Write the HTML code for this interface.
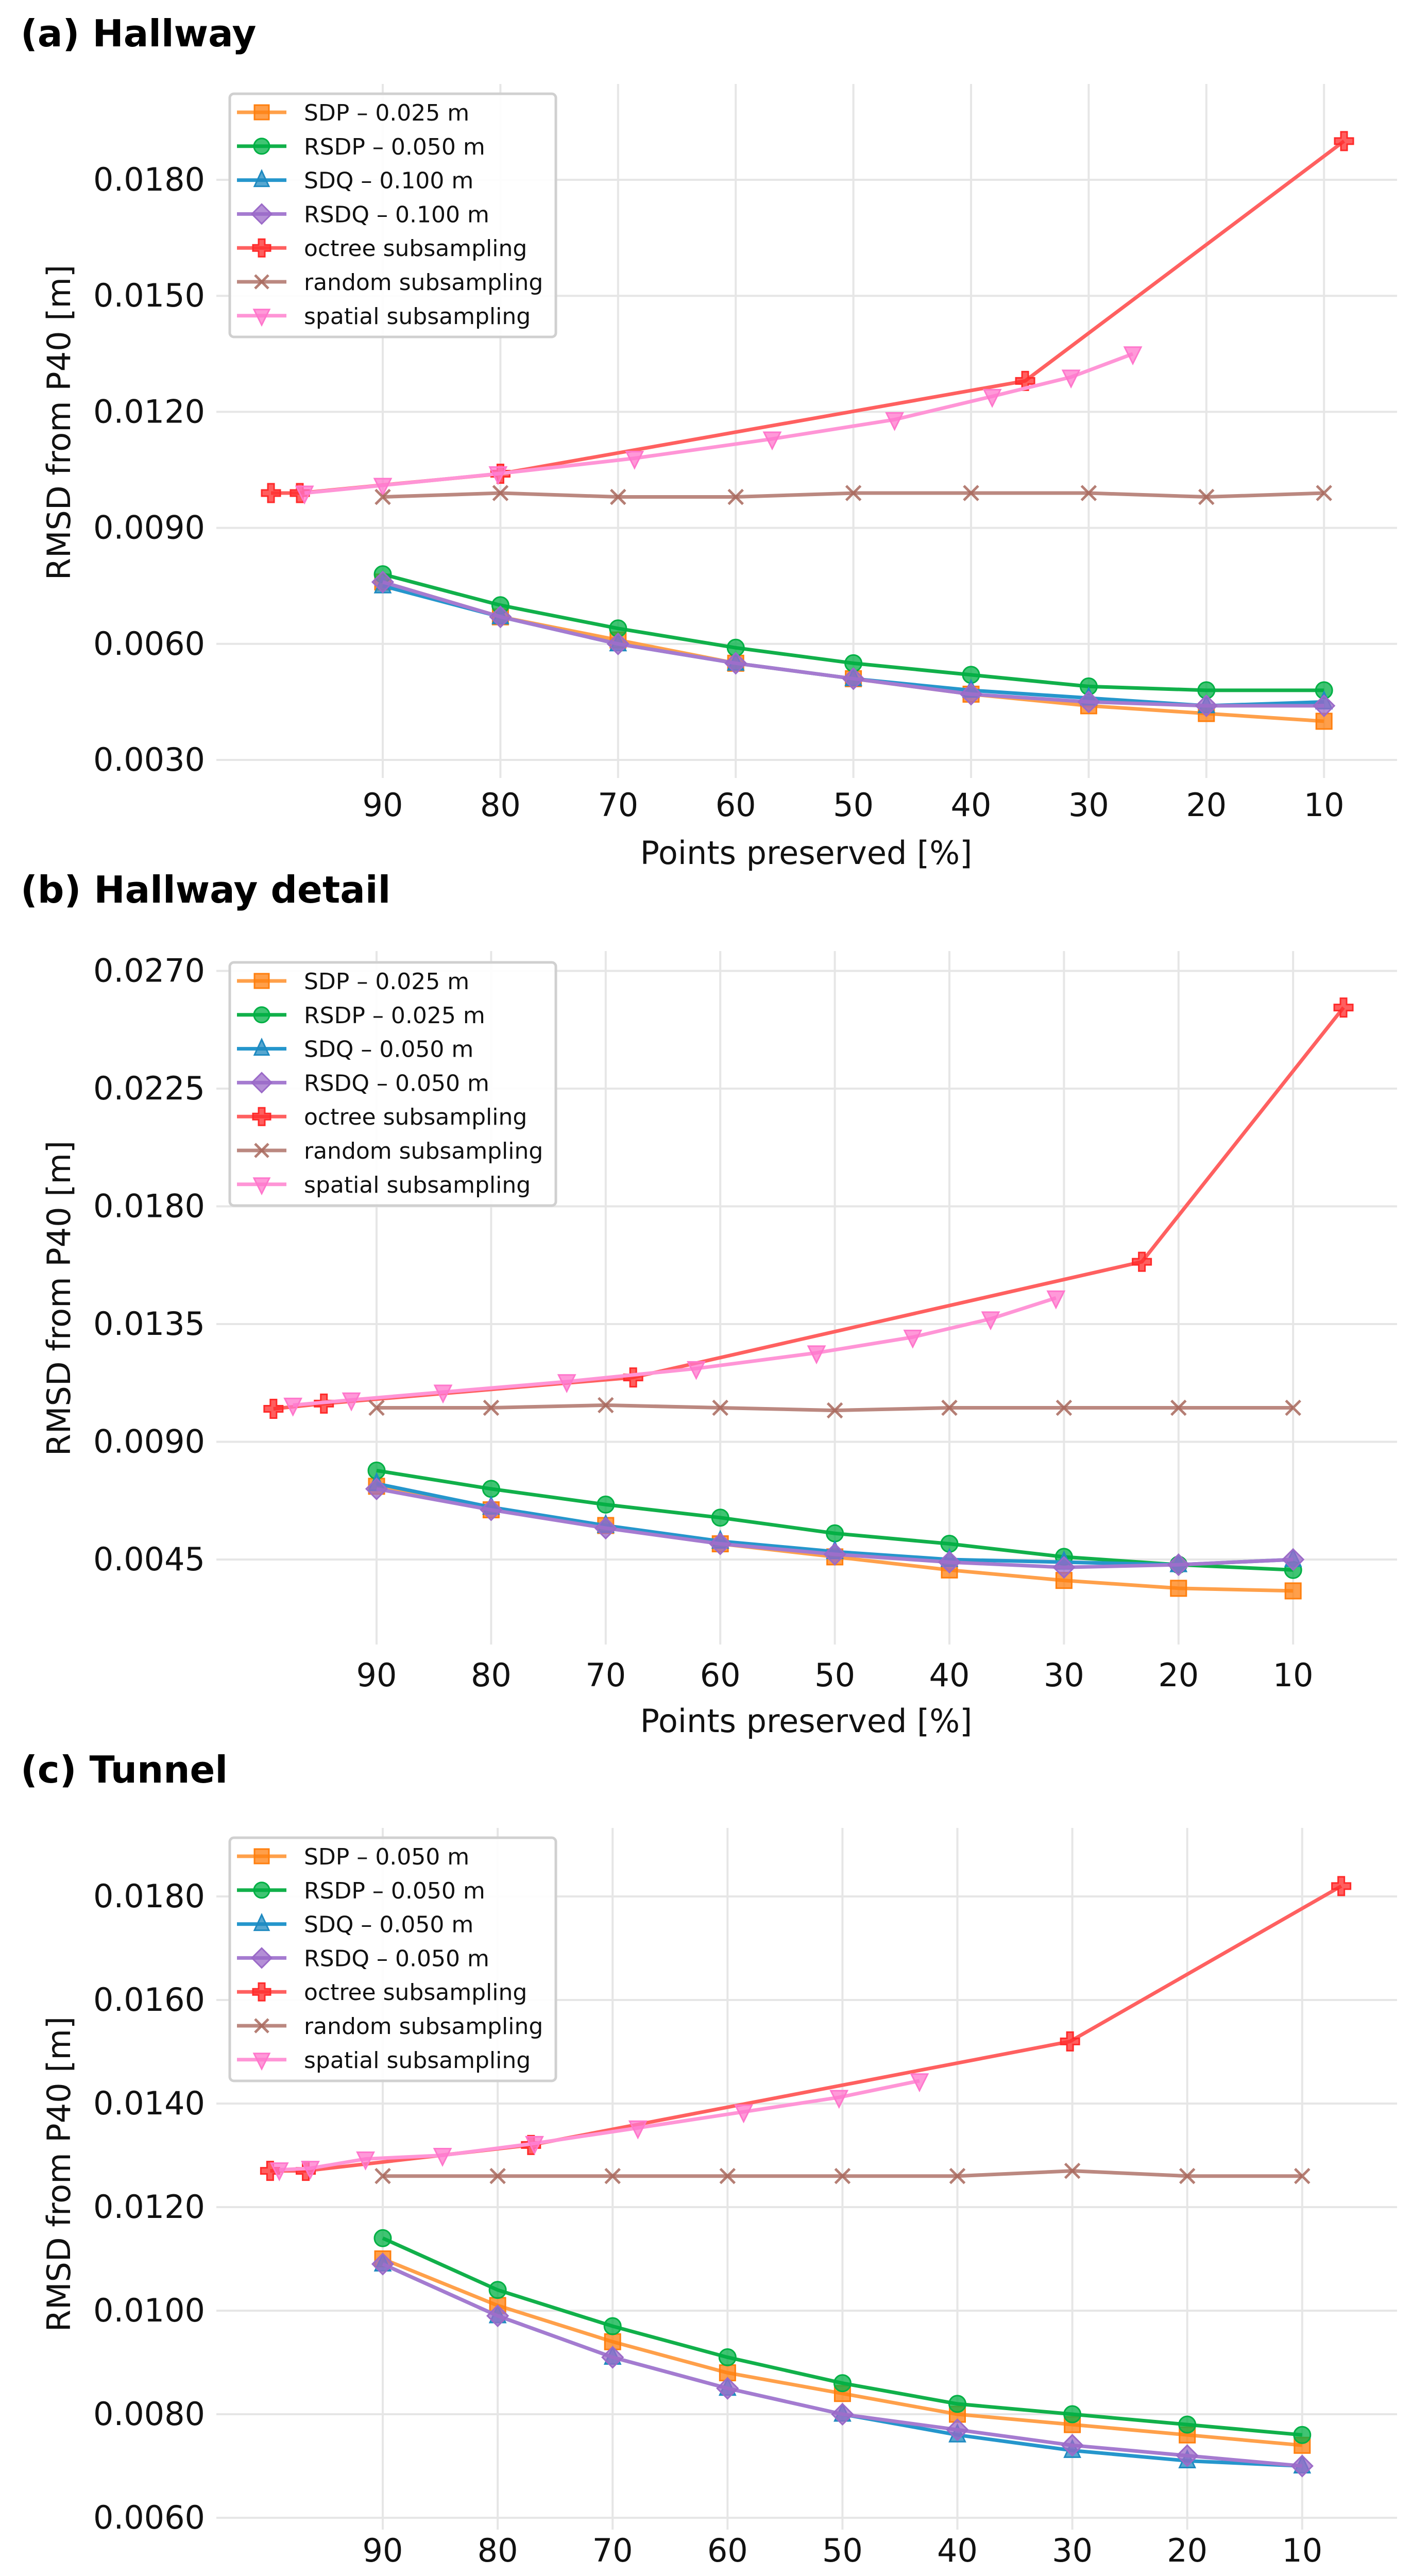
<!DOCTYPE html>
<html><head><meta charset="utf-8"><style>
html,body{margin:0;padding:0;background:#fff;width:2741px;height:5097px;overflow:hidden;}
svg{display:block;overflow:hidden;}
text{font-family:"DejaVu Sans","Liberation Sans",sans-serif;}
.title{font-family:"DejaVu Sans","Liberation Sans",sans-serif;font-weight:900;font-size:72px;}
</style></head><body>
<svg id="fig" width="2741" height="5097" viewBox="0 0 2741 5097" xmlns="http://www.w3.org/2000/svg">
<text class="title" x="40" y="90">(a) Hallway</text>
<text class="title" x="40" y="1752">(b) Hallway detail</text>
<text class="title" x="40" y="3460">(c) Tunnel</text>
</svg>
<script>
// ---- shared data ----
const xCats = [90,80,70,60,50,40,30,20,10];
const xTickLabels = ["90","80","70","60","50","40","30","20","10"];
const seriesNames = ["sdp","rsdp","sdq","rsdq","octree","random","spatial"];

// Panel a
const aLegend = ["SDP – 0.025 m","RSDP – 0.050 m","SDQ – 0.100 m","RSDQ – 0.100 m","octree subsampling","random subsampling","spatial subsampling"];
const aYTicks = [0.003,0.006,0.009,0.012,0.015,0.018];
const aYTickLabels = ["0.0030","0.0060","0.0090","0.0120","0.0150","0.0180"];
const aSDP = [0.0076,0.0067,0.0061,0.0055,0.0051,0.0047,0.0044,0.0042,0.0040];
const aRSDP = [0.0078,0.0070,0.0064,0.0059,0.0055,0.0052,0.0049,0.0048,0.0048];
const aSDQ = [0.0075,0.0067,0.0060,0.0055,0.0051,0.0048,0.0046,0.0044,0.0045];
const aRSDQ = [0.0076,0.0067,0.0060,0.0055,0.0051,0.0047,0.0045,0.0044,0.0044];
const aRandom = [0.0098,0.0099,0.0098,0.0098,0.0099,0.0099,0.0099,0.0098,0.0099];
const aOctreeX = [99.5,97.05,80.0,35.4,8.3];
const aOctreeY = [0.0099,0.0099,0.0104,0.0128,0.0190];
const aSpatialX = [96.65,90,80.2,68.6,56.9,46.5,38.2,31.5,26.25];
const aSpatialY = [0.0099,0.0101,0.0104,0.0108,0.0113,0.0118,0.0124,0.0129,0.0135];

// Panel b
const bLegend = ["SDP – 0.025 m","RSDP – 0.025 m","SDQ – 0.050 m","RSDQ – 0.050 m","octree subsampling","random subsampling","spatial subsampling"];
const bYTicks = [0.0045,0.009,0.0135,0.018,0.0225,0.027];
const bYTickLabels = ["0.0045","0.0090","0.0135","0.0180","0.0225","0.0270"];
const bSDP = [0.0073,0.0064,0.0058,0.0051,0.0046,0.0041,0.0037,0.0034,0.0033];
const bRSDP = [0.0079,0.0072,0.0066,0.0061,0.0055,0.0051,0.0046,0.0043,0.0041];
const bSDQ = [0.0074,0.0065,0.0058,0.0052,0.0048,0.0045,0.0044,0.0043,0.0045];
const bRSDQ = [0.0072,0.0064,0.0057,0.0051,0.0047,0.0044,0.0042,0.0043,0.0045];
const bRandom = [0.0103,0.0103,0.0104,0.0103,0.0102,0.0103,0.0103,0.0103,0.0103];
const bOctreeX = [99.0,94.6,67.6,23.2,5.6];
const bOctreeY = [0.01026,0.01046,0.01146,0.01588,0.0256];
const bSpatialX = [97.3,92.2,84.2,73.4,62.1,51.6,43.2,36.4,30.7];
const bSpatialY = [0.0104,0.0106,0.0109,0.0113,0.0118,0.0124,0.0130,0.0137,0.0145];

// Panel c
const cLegend = ["SDP – 0.050 m","RSDP – 0.050 m","SDQ – 0.050 m","RSDQ – 0.050 m","octree subsampling","random subsampling","spatial subsampling"];
const cYTicks = [0.006,0.008,0.010,0.012,0.014,0.016,0.018];
const cYTickLabels = ["0.0060","0.0080","0.0100","0.0120","0.0140","0.0160","0.0180"];
const cSDP = [0.0110,0.0101,0.0094,0.0088,0.0084,0.0080,0.0078,0.0076,0.0074];
const cRSDP = [0.0114,0.0104,0.0097,0.0091,0.0086,0.0082,0.0080,0.0078,0.0076];
const cSDQ = [0.0109,0.0099,0.0091,0.0085,0.0080,0.0076,0.0073,0.0071,0.0070];
const cRSDQ = [0.0109,0.0099,0.0091,0.0085,0.0080,0.0077,0.0074,0.0072,0.0070];
const cRandom = [0.0126,0.0126,0.0126,0.0126,0.0126,0.0126,0.0127,0.0126,0.0126];
const cOctreeX = [99.8,96.7,77.1,30.2,6.6];
const cOctreeY = [0.0127,0.0127,0.0132,0.0152,0.0182];
const cSpatialX = [99.0,96.3,91.5,84.8,76.8,67.8,58.6,50.3,43.3];
const cSpatialY = [0.01272,0.01275,0.01293,0.01300,0.01323,0.01353,0.01384,0.01412,0.01444];

const NS = "http://www.w3.org/2000/svg";
const svg = document.getElementById('fig');
function mk(tag, attrs, parent){ const e=document.createElementNS(NS,tag); for(const k in attrs) e.setAttribute(k,attrs[k]); (parent||svg).appendChild(e); return e; }

const styles = {
 sdp:{c:"#ff7f0e",lc:"#ffa04a",m:"square"},
 rsdp:{c:"#00b044",lc:"#11b04a",m:"circle"},
 sdq:{c:"#1f8ac0",lc:"#2596cc",m:"tri"},
 rsdq:{c:"#9b6ac8",lc:"#a57bd0",m:"diamond"},
 octree:{c:"#ff2a2a",lc:"#ff6060",m:"plus"},
 random:{c:"#a8675c",lc:"#bb8880",m:"x"},
 spatial:{c:"#ff77cc",lc:"#ff95d6",m:"tridown"}
};

function marker(g, type, x, y, st, s){
  s = s||17; let e;
  const fo = {fill:st.c,'fill-opacity':0.75,stroke:st.c,'stroke-width':3};
  if(type==="square") e=mk('rect',Object.assign({x:x-s+2,y:y-s+2,width:2*s-4,height:2*s-4},fo),g);
  else if(type==="circle") e=mk('circle',Object.assign({cx:x,cy:y,r:s-1},fo),g);
  else if(type==="tri") e=mk('polygon',Object.assign({points:`${x},${y-s-2} ${x+s-2},${y+s-4} ${x-s+2},${y+s-4}`},fo),g);
  else if(type==="tridown") e=mk('polygon',Object.assign({points:`${x},${y+s+2} ${x+s-1},${y-s+4} ${x-s+1},${y-s+4}`},fo),g);
  else if(type==="diamond") e=mk('polygon',Object.assign({points:`${x},${y-s-3} ${x+s+3},${y} ${x},${y+s+3} ${x-s-3},${y}`},fo),g);
  else if(type==="plus"){ const a=s+1,b=6; e=mk('polygon',Object.assign({points:`${x-b},${y-a} ${x+b},${y-a} ${x+b},${y-b} ${x+a},${y-b} ${x+a},${y+b} ${x+b},${y+b} ${x+b},${y+a} ${x-b},${y+a} ${x-b},${y+b} ${x-a},${y+b} ${x-a},${y-b} ${x-b},${y-b}`},fo),g); }
  else if(type==="x"){ const a=s-3; e=mk('path',{d:`M${x-a},${y-a}L${x+a},${y+a}M${x-a},${y+a}L${x+a},${y-a}`,stroke:st.c,'stroke-width':5,'stroke-opacity':0.85,fill:'none'},g); }
  return e;
}

function panel(key, cfg){
  const g = mk('g',{});
  
  
  const X = v => cfg.x90 + (90 - v)*cfg.dx;
  const Y = v => cfg.yBase - (v - cfg.yTicks[0])/cfg.yStep*cfg.dy;
  cfg.yTicks.forEach((t,i)=>{
    const yy=Y(t);
    const l=mk('line',{x1:420,x2:2712,y1:yy,y2:yy,stroke:'#e6e6e6','stroke-width':4},g);
    
    
    const tx=mk('text',{x:398,y:yy+21,'text-anchor':'end','font-size':62,fill:'#111'},g);
    tx.textContent=cfg.yLabels[i];
    
    
  });
  xCats.forEach((c,i)=>{
    const xx=X(c);
    const l=mk('line',{x1:xx,x2:xx,y1:cfg.top,y2:cfg.bottom,stroke:'#e6e6e6','stroke-width':4},g);
    
    
    const tx=mk('text',{x:xx,y:cfg.tickY+22,'text-anchor':'middle','font-size':62,fill:'#111'},g);
    tx.textContent=xTickLabels[i];
    
    
  });
  const xl=mk('text',{x:1565,y:cfg.xlabY+22,'text-anchor':'middle','font-size':62,fill:'#111'},g);
  xl.textContent='Points preserved [%]';
  
  
  const yl=mk('text',{x:0,y:0,'text-anchor':'middle','font-size':62,fill:'#111',transform:`translate(136,${cfg.ylabY}) rotate(-90)`},g);
  yl.textContent='RMSD from P40 [m]';
  
  
  const sets = {
    sdp:[xCats,cfg.sdp], rsdp:[xCats,cfg.rsdp], sdq:[xCats,cfg.sdq], rsdq:[xCats,cfg.rsdq],
    octree:[cfg.octX,cfg.octY], random:[xCats,cfg.random], spatial:[cfg.spX,cfg.spY]
  };
  const order=["octree","spatial","random","sdp","rsdp","sdq","rsdq"];
  order.forEach(k=>{
    const st=styles[k]; const [xs,ys]=sets[k];
    const sg=mk('g',{},g);
    
    
    const pts=xs.map((x,i)=>X(x)+','+Y(ys[i])).join(' ');
    mk('polyline',{points:pts,fill:'none',stroke:st.lc,'stroke-width':7,'stroke-linejoin':'round'},sg);
    xs.forEach((x,i)=>{
      const m=marker(sg,st.m,X(x),Y(ys[i]),st);
      
      
    });
  });
  const lg=mk('g',{},g);
  
  
  mk('rect',{x:446,y:cfg.legTop,width:633,height:472,rx:8,fill:'#fff','fill-opacity':0.9,stroke:'#d0d0d0','stroke-width':5},lg);
  seriesNames.forEach((k,i)=>{
    const st=styles[k]; const yy=cfg.legTop+36+i*65.8;
    const e=mk('g',{},lg);
    
    
    mk('line',{x1:460,x2:556,y1:yy,y2:yy,stroke:st.lc,'stroke-width':7},e);
    marker(e,st.m,508,yy,st,16);
    const t=mk('text',{x:590,y:yy+16,'font-size':44,fill:'#111'},e);
    t.textContent=cfg.legend[i];
  });
}

panel('a',{x90:743,dx:22.84,yBase:1475,dy:225.2,yStep:0.003,yTicks:aYTicks,yLabels:aYTickLabels,top:163,bottom:1510,tickY:1562,xlabY:1655,ylabY:820,legTop:182,legend:aLegend,
  sdp:aSDP,rsdp:aRSDP,sdq:aSDQ,rsdq:aRSDQ,random:aRandom,octX:aOctreeX,octY:aOctreeY,spX:aSpatialX,spY:aSpatialY});
panel('b',{x90:731,dx:22.24,yBase:3027,dy:228.5,yStep:0.0045,yTicks:bYTicks,yLabels:bYTickLabels,top:1846,bottom:3192,tickY:3251,xlabY:3340,ylabY:2520,legTop:1868,legend:bLegend,
  sdp:bSDP,rsdp:bRSDP,sdq:bSDQ,rsdq:bRSDQ,random:bRandom,octX:bOctreeX,octY:bOctreeY,spX:bSpatialX,spY:bSpatialY});
panel('c',{x90:743,dx:22.31,yBase:4887,dy:201,yStep:0.002,yTicks:cYTicks,yLabels:cYTickLabels,top:3548,bottom:4910,tickY:4950,xlabY:5039,ylabY:4220,legTop:3567,legend:cLegend,
  sdp:cSDP,rsdp:cRSDP,sdq:cSDQ,rsdq:cRSDQ,random:cRandom,octX:cOctreeX,octY:cOctreeY,spX:cSpatialX,spY:cSpatialY});
</script>
</body></html>
